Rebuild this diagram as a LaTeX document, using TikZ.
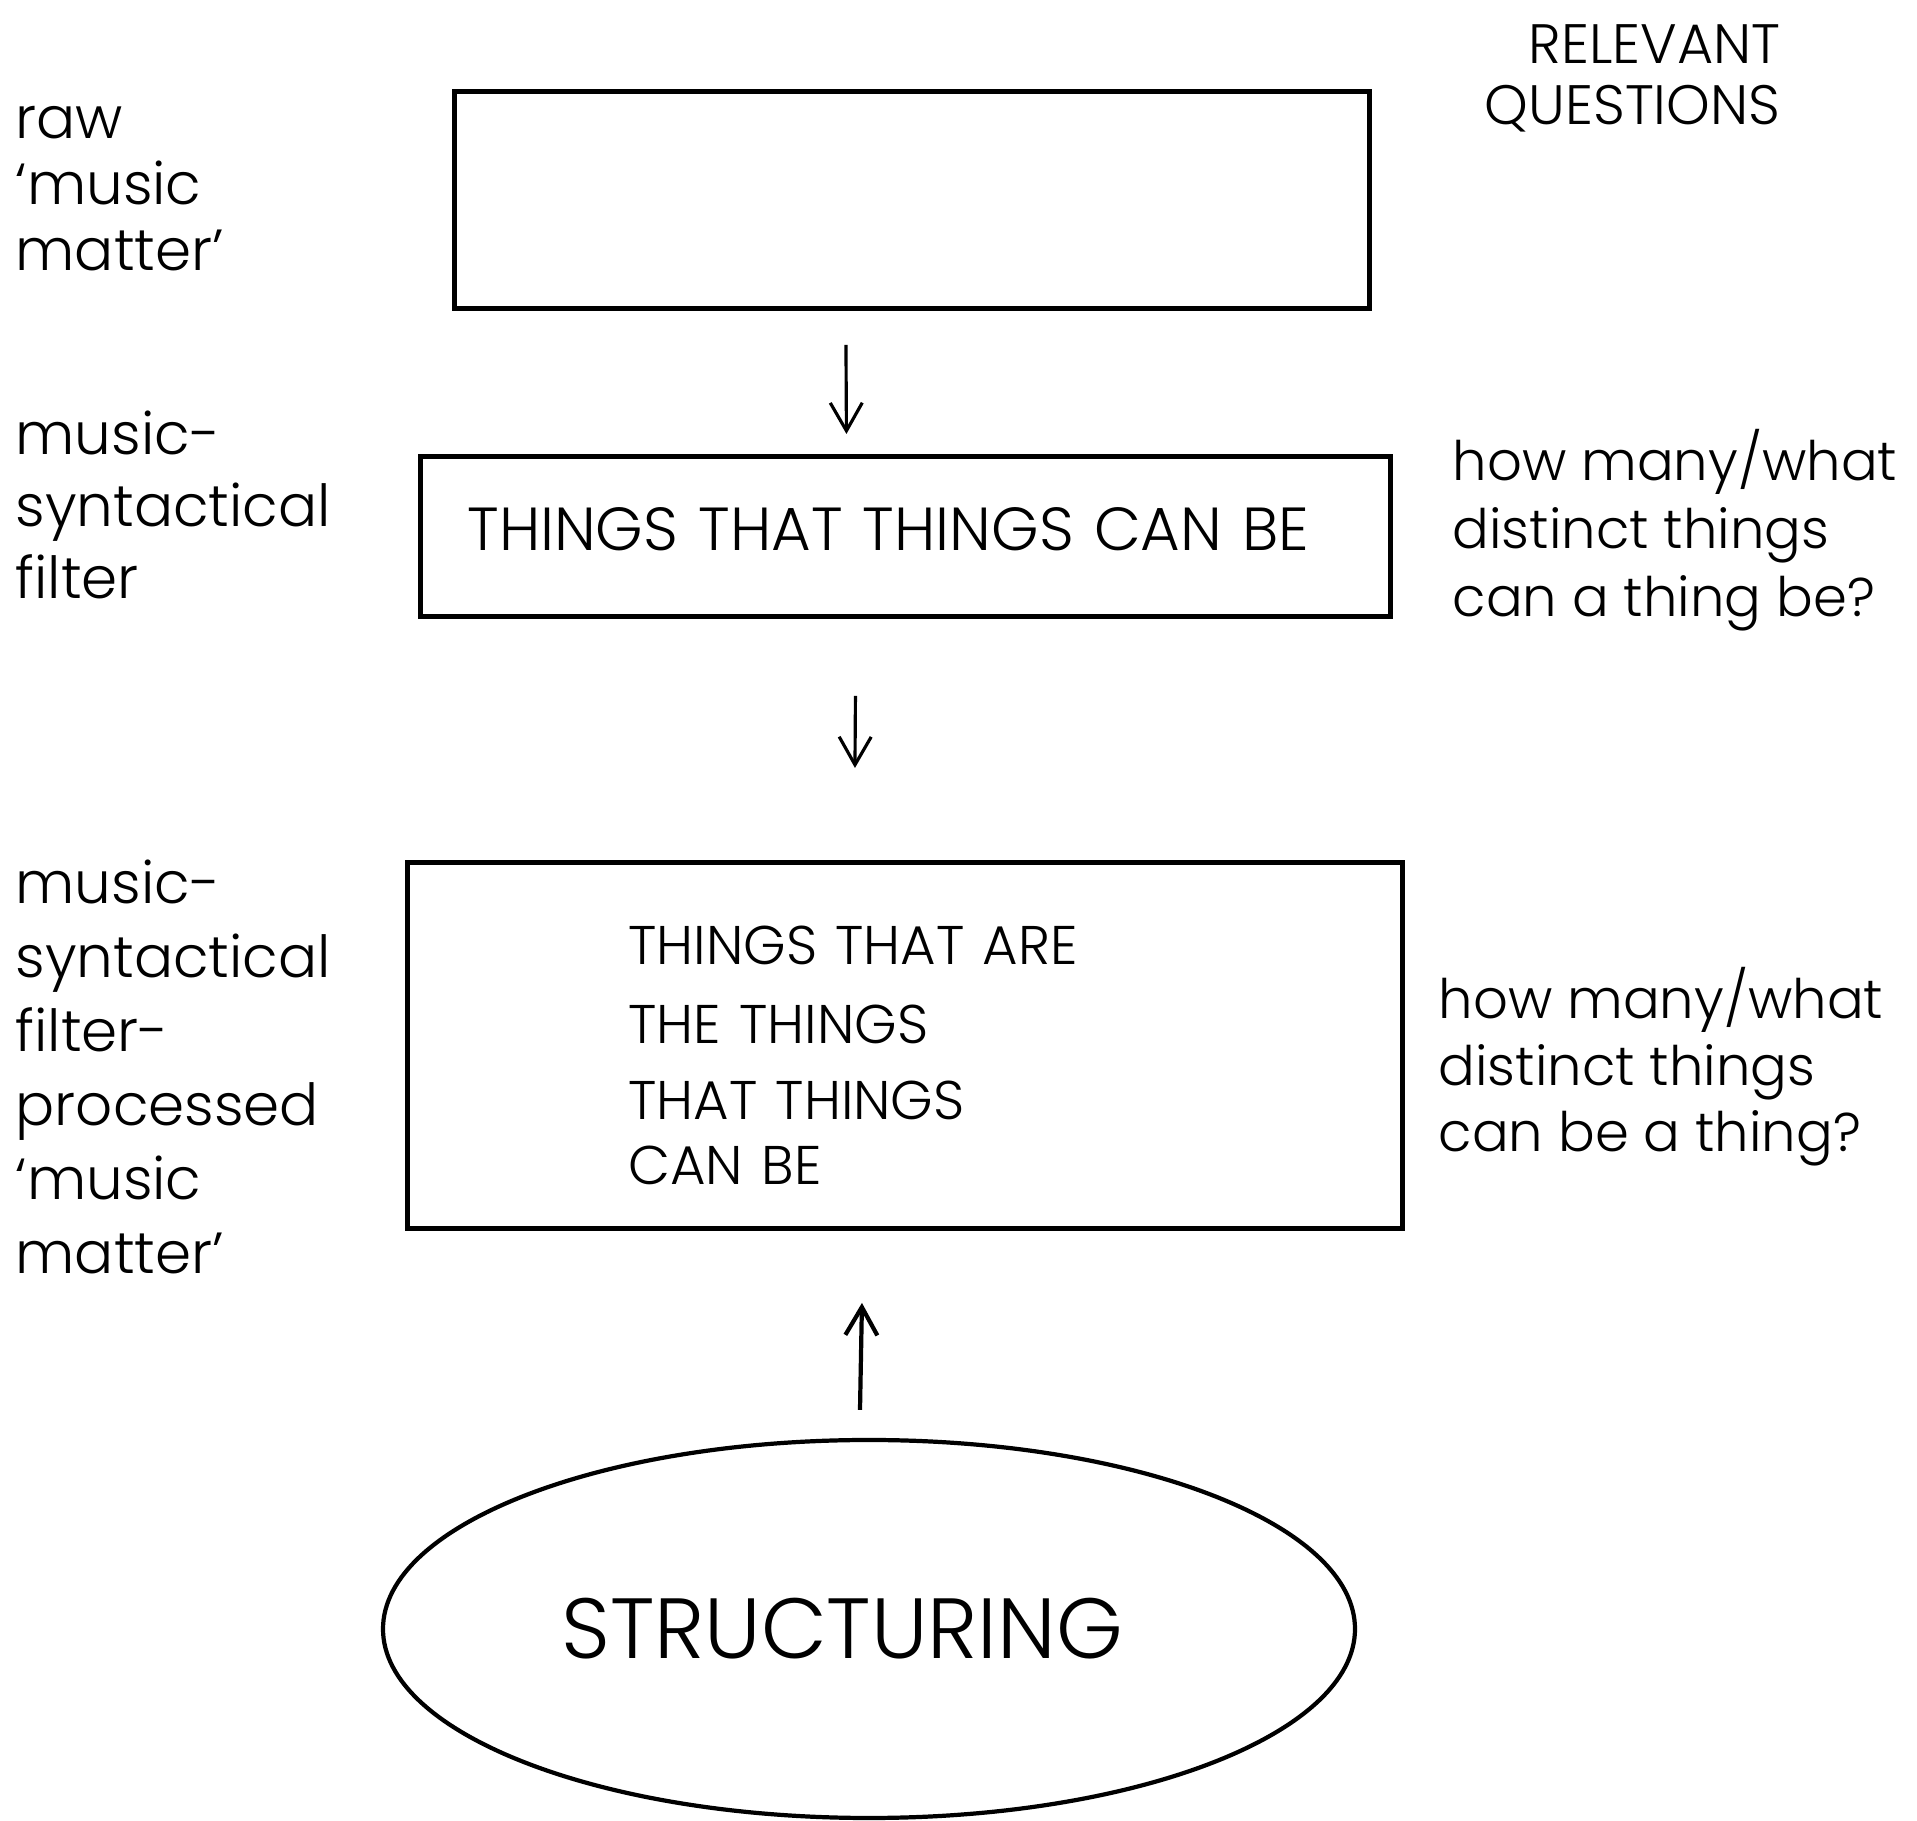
\documentclass[tikz,border=0pt]{standalone}
\usepackage{fontspec}
\setmainfont{Poppins}[UprightFont={* Light}]
\usepackage{tikz}
\usetikzlibrary{
  shapes.geometric,
  arrows.meta,
  positioning,
  calc
}

\begin{document}
\begin{tikzpicture}[
  x=0.1mm, y=-0.1mm,
  box/.style={draw, line width=1.4pt, rectangle, anchor=north west, inner ysep=0pt, align=left},
  lbl/.style={anchor=base west, inner sep=0pt, align=left, font=\fontsize{16.5}{18.8}\selectfont},
  arr/.style={-{Straight Barb[length=2.8mm, width=3.2mm]}, line width=0.9pt}
]
  \useasboundingbox (0,0) rectangle (1917,1821);

  % boxes
  \node[box, minimum width=91.5mm, minimum height=21.7mm] (matter) at (452,89) {};
  \node[box, minimum width=97mm, minimum height=16mm, inner xsep=4.7mm, text width=87.6mm,
        font=\fontsize{17.3}{20}\selectfont] (filter) at (418,454)
        {THINGS THAT THINGS CAN BE\rule[-1.4mm]{0pt}{1.4mm}};
  \node[box, minimum width=99.5mm, minimum height=36.6mm, inner xsep=22.1mm, text width=55.3mm,
        font=\fontsize{15.5}{18.5}\selectfont] (processed) at (405,860)
        {\rule{0pt}{5.8mm}THINGS THAT ARE\\[4pt] THE THINGS\\[3.1pt] THAT THINGS\\ CAN BE};
  \node[draw, ellipse, line width=1.2pt, minimum width=97.2mm, minimum height=37.8mm, inner sep=0pt,
        font=\fontsize{24.3}{28}\selectfont] (struct) at (869,1629) {STRUCTURING\hspace*{5.4mm}};

  % labels on the left (placed at the baseline of their last line)
  \node[lbl] (rawlbl) at (15,271) {raw\\`music\\matter'};
  \node[lbl, font=\fontsize{16.5}{20.5}\selectfont] (synlbl) at (15,599) {music-\\syntactical\\filter};
  \node[lbl, font=\fontsize{16.5}{21.1}\selectfont] (proclbl) at (15,1274)
        {music-\\syntactical\\filter-\\processed\\`music\\matter'};

  % questions on the right
  \node[lbl, anchor=base east, align=right, font=\fontsize{15.8}{17.4}\selectfont] (relq) at (1781,125)
        {RELEVANT\\QUESTIONS};
  \node[lbl, font=\fontsize{15.5}{19.4}\selectfont] (q1) at (1452,617)
        {how many/what\\distinct things\\can a thing be?};
  \node[lbl, font=\fontsize{15.5}{19}\selectfont] (q2) at (1438,1152)
        {how many/what\\distinct things\\can be a thing?};

  % arrows
  \draw[arr] ($(matter.south)+(-66,34)$) -- ($(filter.north)+(-59,-20)$);
  \draw[arr] ($(filter.south)+(-50,77)$) -- ($(processed.north)+(-50,-92)$);
  \draw[arr, line width=1.2pt] ($(struct.north)+(-9,-28)$) -- ($(processed.south)+(-43,72)$);
\end{tikzpicture}
\end{document}
